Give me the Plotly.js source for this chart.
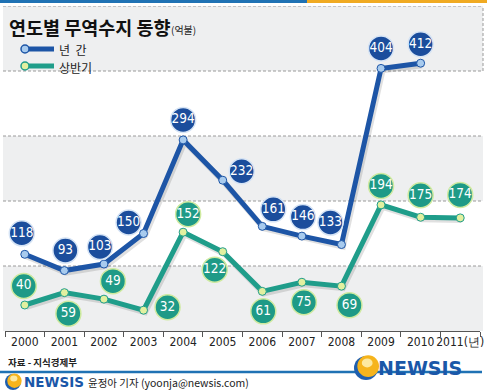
<!DOCTYPE html>
<html><head><meta charset="utf-8">
<script src="https://cdn.plot.ly/plotly-3.0.1.min.js"></script>
<style>html,body{margin:0;padding:0;background:#fff;overflow:hidden}#chart{width:487px;height:391px}</style>
</head><body><div id="chart"></div><script>
// ---- data ----
const years = ['2000','2001','2002','2003','2004','2005','2006','2007','2008','2009','2010','2011'];
const tickLabels = ['2000','2001','2002','2003','2004','2005','2006','2007','2008','2009','2010','2011(년)'];
const annual = [118, 93, 103, 150, 294, 232, 161, 146, 133, 404, 412];   // 년 간
const firstHalf = [40, 59, 49, 32, 152, 122, 61, 75, 69, 194, 175, 174]; // 상반기
const seriesNames = ['년  간', '상반기'];
const titleText = '연도별 무역수지 동향';
const unitText = '(억불)';
const sourceText = '자료 - 지식경제부';
const creditText = '윤정아 기자 (yoonja@newsis.com)';

// label bubble offsets in pixels (right, up)
const annualOff = [[-3,21],[1,20],[-4,17],[-15,11],[0,20],[19,9],[11,17],[1,19],[-11,22],[0,20],[0,19]];
const halfOff = [[-1,19],[4,-21],[9,18],[24,3],[5,18],[-8,-18],[1,-20],[2,-20],[8,-19],[0,19],[0,22],[0,23]];

// ---- geometry ----
const W = 487, H = 391;
const M = {l:5, r:7, t:6, b:60};
const PW = W - M.l - M.r, PH = H - M.t - M.b;
const YMAX = 500;
const PXX = PW / 12, PXY = PH / YMAX;
const px = x => (x - M.l) / PW;            // pixel -> paper x
const py = y => (H - M.b - y) / PH;        // pixel -> paper y

const BLUE = '#1d55a6', BLUE_L = '#a8cbee', BLUE_B = '#1b4d9c';
const TEAL = '#1f9d8a', TEAL_L = '#e2f0a0', TEAL_B = '#1e9a87';
const NARROW = '"Liberation Sans Narrow", "DejaVu Sans Condensed", Arial, sans-serif';
const KR = '"Noto Sans CJK KR", "Noto Sans", sans-serif';

const xi = arr => arr.map((_, i) => i);

function shadow(vals) {
  return {x: vals.map((_, i) => i + 1.5 / PXX), y: vals.map(v => v - 2 / PXY),
    mode: 'lines', line: {color: 'rgba(0,0,0,0.12)', width: 6}, hoverinfo: 'skip', showlegend: false};
}
function line(vals, col, mk) {
  return {x: xi(vals), y: vals, mode: 'lines+markers',
    line: {color: col, width: 5},
    marker: {size: 8, color: mk, line: {color: col, width: 1}},
    hoverinfo: 'skip', showlegend: false};
}
function bubbles(vals, off, col, edge) {
  return {x: vals.map((_, i) => i + off[i][0] / PXX), y: vals.map((v, i) => v + off[i][1] / PXY),
    mode: 'markers+text', text: vals.map(String), textposition: 'middle center',
    textfont: {color: '#fff', size: 13.5, family: NARROW},
    marker: {size: 25, color: col, line: {color: edge, width: 1.5}},
    hoverinfo: 'skip', showlegend: false, cliponaxis: false};
}

const data = [
  shadow(firstHalf), shadow(annual),
  line(firstHalf, TEAL, TEAL_L), line(annual, BLUE, BLUE_L),
  bubbles(firstHalf, halfOff, TEAL_B, '#cfeaa0'),
  bubbles(annual, annualOff, BLUE_B, '#d6e4f5')
];

const shapes = [];
const bandX0 = px(3), bandX1 = px(483);
// gray bands
[[0,100],[200,300],[400,500]].forEach(b => shapes.push({type:'rect', xref:'paper', yref:'y',
  x0: bandX0, x1: bandX1, y0: b[0], y1: b[1], fillcolor:'#eeeff0', line:{width:0}, layer:'below'}));
// dashed lines
[100,200,300,400,500].forEach(v => shapes.push({type:'line', xref:'paper', yref:'y',
  x0: bandX0, x1: bandX1, y0: v, y1: v, line:{color:'#9a9a9a', width:1, dash:'3px,2px'}, layer:'below'}));
shapes.push({type:'line', xref:'paper', yref:'y', x0: bandX1, x1: bandX1, y0: 400, y1: 500,
  line:{color:'#9a9a9a', width:1, dash:'3px,2px'}, layer:'below'});
// top border
shapes.push({type:'rect', xref:'paper', yref:'paper', x0: px(0), x1: px(307), y0: py(3), y1: py(0), fillcolor:'#1f72b4', line:{width:0}});
shapes.push({type:'rect', xref:'paper', yref:'paper', x0: px(307), x1: px(487), y0: py(3), y1: py(0), fillcolor:'#f0aa22', line:{width:0}});
// legend samples
function legendItem(y, col, mk) {
  shapes.push({type:'line', xref:'paper', yref:'paper', x0: px(24), x1: px(54), y0: py(y), y1: py(y), line:{color:col, width:5}});
  shapes.push({type:'circle', xref:'paper', yref:'paper', x0: px(21), x1: px(29), y0: py(y+4), y1: py(y-4), fillcolor: mk, line:{color:col, width:1.5}});
}
legendItem(49, BLUE, BLUE_L);
legendItem(66, TEAL, TEAL_L);
// bottom blue rule
shapes.push({type:'line', xref:'paper', yref:'paper', x0: px(0), x1: px(482), y0: py(372), y1: py(372), line:{color:'#1f72b4', width:2.5}});
// logo balls
function ball(cx, cy, r) {
  shapes.push({type:'circle', xref:'paper', yref:'paper', x0: px(cx-r), x1: px(cx+r), y0: py(cy+r), y1: py(cy-r), fillcolor:'#1f5fae', line:{width:0}});
  const o = r*0.28;
  shapes.push({type:'circle', xref:'paper', yref:'paper', x0: px(cx-r+o), x1: px(cx+r+o*0.3), y0: py(cy+r-o*0.9), y1: py(cy-r-o*0.2), fillcolor:'#f6b41c', line:{width:0}});
  shapes.push({type:'circle', xref:'paper', yref:'paper', x0: px(cx-r*0.35), x1: px(cx+r*0.55), y0: py(cy-r*0.05), y1: py(cy-r*0.8), fillcolor:'#fde9a0', line:{width:0}});
}
ball(366, 368, 12);
ball(13, 382, 8);

const annotations = [
  {xref:'paper', yref:'paper', x: px(7), y: py(27), xanchor:'left', yanchor:'middle', showarrow:false,
   text: '<b>' + titleText + '</b>', font:{family: KR, size: 18.5, color:'#111'}},
  {xref:'paper', yref:'paper', x: px(169), y: py(29), xanchor:'left', yanchor:'middle', showarrow:false,
   text: unitText, font:{family: KR, size: 10, color:'#222'}},
  {xref:'paper', yref:'paper', x: px(57), y: py(49), xanchor:'left', yanchor:'middle', showarrow:false,
   text: seriesNames[0], font:{family: KR, size: 12, color:'#222'}},
  {xref:'paper', yref:'paper', x: px(57), y: py(67), xanchor:'left', yanchor:'middle', showarrow:false,
   text: seriesNames[1], font:{family: KR, size: 12, color:'#222'}},
  {xref:'paper', yref:'paper', x: px(6), y: py(362), xanchor:'left', yanchor:'middle', showarrow:false,
   text: '<b>' + sourceText + '</b>', font:{family: KR, size: 9.5, color:'#222'}},
  {xref:'paper', yref:'paper', x: px(376), y: py(368), xanchor:'left', yanchor:'middle', showarrow:false,
   text: '<b>NEWSIS</b>', font:{family: '"DejaVu Sans", sans-serif', size: 19, color:'#1a57a8'}},
  {xref:'paper', yref:'paper', x: px(22), y: py(382), xanchor:'left', yanchor:'middle', showarrow:false,
   text: '<b>NEWSIS</b>', font:{family: '"DejaVu Sans", sans-serif', size: 13.5, color:'#1a57a8'}},
  {xref:'paper', yref:'paper', x: px(86), y: py(382), xanchor:'left', yanchor:'middle', showarrow:false,
   text: creditText, font:{family: KR, size: 10.5, color:'#222'}}
];

const layout = {
  width: W, height: H, margin: M,
  paper_bgcolor: '#ffffff', plot_bgcolor: 'rgba(0,0,0,0)',
  showlegend: false, hovermode: false,
  xaxis: {range: [-0.5, 11.5], tickvals: xi(years), ticktext: tickLabels, ticks: '', tickangle: 0,
    showgrid: false, zeroline: false, showline: true, linecolor: '#555', linewidth: 1,
    tickfont: {family: NARROW, size: 12, color: '#222'}, fixedrange: true,
    minor: {tickvals: years.map((_, i) => i - 0.5).concat([years.length - 0.5]), ticks: 'outside', ticklen: 5, tickcolor: '#555', showgrid: false}},
  yaxis: {range: [0, YMAX], visible: false, showgrid: false, zeroline: false, fixedrange: true},
  shapes: shapes, annotations: annotations
};

Plotly.newPlot('chart', data, layout, {displayModeBar: false, staticPlot: true});
</script></body></html>
